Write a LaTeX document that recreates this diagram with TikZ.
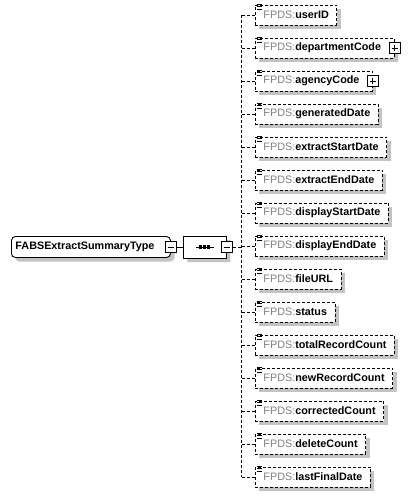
\documentclass[tikz,border=0pt]{standalone}
\usepackage{fontspec}
\setmainfont{Liberation Sans}
\usetikzlibrary{positioning,shapes.misc,shadows}
\definecolor{fpdsgray}{RGB}{128,128,128}
\definecolor{shadowgray}{RGB}{195,195,195}

\begin{document}
\begin{tikzpicture}[x=1pt, y=-1pt, line width=0.9pt,
  font=\fontsize{10.8}{12}\selectfont,
  boxshadow/.style={drop shadow={shadow xshift=4pt, shadow yshift=-4pt, fill=shadowgray, opacity=1}},
  conn/.style={dash pattern=on 3pt off 2pt},
  elem/.style={draw, conn, fill=white, boxshadow, minimum height=20pt, inner xsep=8pt, inner ysep=0pt, anchor=west},
  typebox/.style={draw, fill=white, rounded corners=4pt, boxshadow, minimum height=21pt, inner xsep=4pt, inner ysep=0pt, anchor=west},
  seqbox/.style={draw, fill=white, chamfered rectangle, chamfered rectangle xsep=7pt, chamfered rectangle ysep=6pt, boxshadow, minimum width=43pt, minimum height=22pt, inner sep=0pt},
  expander/.style={draw, solid, fill=white, minimum size=11pt, inner sep=0pt},
  expminus/.style={expander, path picture={
      \draw ([xshift=2.5pt]path picture bounding box.west) -- ([xshift=-2.5pt]path picture bounding box.east);}},
  expplus/.style={expander, path picture={
      \draw ([xshift=2.5pt]path picture bounding box.west) -- ([xshift=-2.5pt]path picture bounding box.east)
            ([yshift=-2.5pt]path picture bounding box.north) -- ([yshift=2.5pt]path picture bounding box.south);}},
  icon/.style={solid, line width=0.8pt}
]
  \useasboundingbox (0,0) rectangle (413,497);

  % Complex type and its sequence
  \node[typebox] (type) at (11,247) {\textbf{FABSExtractSummaryType}\hspace*{12pt}};
  \node[expminus] (typeminus) at (type.east) {};
  \node[seqbox, right=6pt of typeminus] (seq) {};
  \node[expminus] (seqminus) at (seq.east) {};
  \draw (typeminus) -- (seq);

  % Sequence symbol
  \draw ([xshift=-9pt]seq.center) -- ([xshift=9pt]seq.center);
  \foreach \dx in {-4,0,4} {
    \fill ([xshift=\dx pt]seq.center) +(-1.6,-1.6) rectangle +(1.6,1.6);
  }

  % Elements
  \foreach \name/\pad [count=\i] in {userID/0, departmentCode/5, agencyCode/5,
      generatedDate/0, extractStartDate/0, extractEndDate/0, displayStartDate/0,
      displayEndDate/0, fileURL/0, status/0, totalRecordCount/0, newRecordCount/0,
      correctedCount/0, deleteCount/0, lastFinalDate/0} {
    \node[elem] (e\i) at (255, 15+33*\i-33) {\textcolor{fpdsgray}{FPDS:}\textbf{\name}\hspace*{\pad pt}};
    \draw[icon] ([xshift=1.5pt]e\i.north west) -- +(5,0)
                ([xshift=1.5pt,yshift=-2.2pt]e\i.north west) -- +(5,0)
                ([xshift=1.5pt,yshift=-4.4pt]e\i.north west) -- +(5,0);
  }
  \node[expplus] (e2plus) at (e2.east) {};
  \node[expplus] (e3plus) at (e3.east) {};

  % Connectors
  \coordinate[right=9pt of seqminus] (bus);
  \draw[conn] (seqminus) -- (bus);
  \draw[conn] (bus |- e1.west) -- (bus |- e15.west);
  \foreach \i in {1,...,15} {
    \draw[conn] (bus |- e\i.west) -- (e\i.west);
  }
\end{tikzpicture}
\end{document}
